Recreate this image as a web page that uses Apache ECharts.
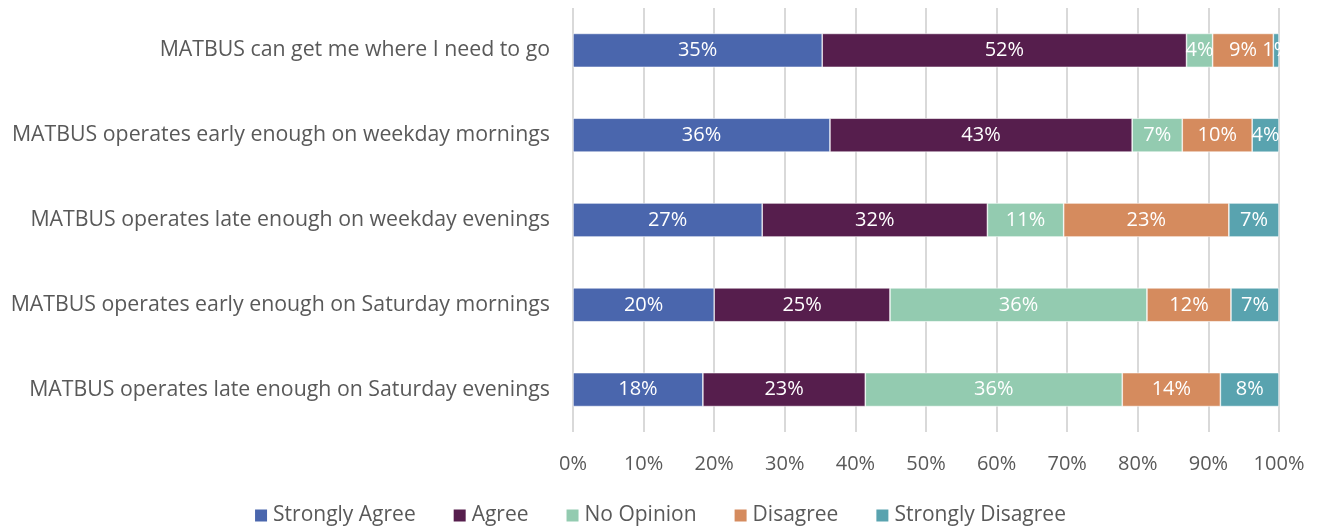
<!DOCTYPE html>
<html><head><meta charset="utf-8">
<script src="https://cdn.jsdelivr.net/npm/echarts@6/dist/echarts.min.js"></script>
<style>html,body{margin:0;padding:0;background:#fff}#c{width:1319px;height:529px}</style>
</head><body><div id="c"></div>
<script>
const categories = [
  "MATBUS can get me where I need to go",
  "MATBUS operates early enough on weekday mornings",
  "MATBUS operates late enough on weekday evenings",
  "MATBUS operates early enough on Saturday mornings",
  "MATBUS operates late enough on Saturday evenings"
];
const seriesNames = ["Strongly Agree","Agree","No Opinion","Disagree","Strongly Disagree"];
const stronglyAgree = [35.3, 36.4, 26.8, 20.0, 18.4];
const agree = [51.6, 42.8, 31.9, 24.9, 23.0];
const noOpinion = [3.7, 7.1, 10.8, 36.4, 36.4];
const disagree = [8.6, 9.9, 23.4, 11.9, 13.9];
const stronglyDisagree = [0.8, 3.8, 7.1, 6.8, 8.3];
const xTicks = [0,10,20,30,40,50,60,70,80,90,100];
const colors = ["#4a66ad","#561e4d","#93cbb0","#d58b5e","#59a3af"];
const allData = [stronglyAgree, agree, noOpinion, disagree, stronglyDisagree];
const font = "'Open Sans', sans-serif";
const chart = echarts.init(document.getElementById('c'));
chart.setOption({
  animation:false,
  textStyle:{fontFamily:font},
  grid:{left:573,right:40,top:8,bottom:97,containLabel:false},
  legend:{bottom:-2,left:'center',itemWidth:14,itemHeight:14,itemGap:36,icon:'rect',
    textStyle:{color:'#595959',fontSize:21,fontFamily:font},data:seriesNames},
  xAxis:{type:'value',min:xTicks[0],max:xTicks[xTicks.length-1],interval:10,
    axisLabel:{formatter:v=>v+'%',color:'#595959',fontSize:20,margin:22,fontFamily:font},
    splitLine:{lineStyle:{color:'#d9d9d9',width:2}},axisLine:{show:false},axisTick:{show:false}},
  yAxis:{type:'category',data:categories,inverse:true,
    axisLabel:{color:'#595959',fontSize:21.3,margin:23,fontFamily:font},
    axisLine:{show:false},axisTick:{show:false}},
  series: seriesNames.map((n,i)=>({
    name:n,type:'bar',stack:'t',data:allData[i],barCategoryGap:'60%',
    itemStyle:{color:colors[i],borderColor:'#ffffff',borderWidth:0.6},
    label:{show:true,position:'inside',color:'#fff',fontSize:20,fontFamily:font,
      formatter:p=>Math.round(p.value)+'%'}
  }))
});
</script></body></html>
